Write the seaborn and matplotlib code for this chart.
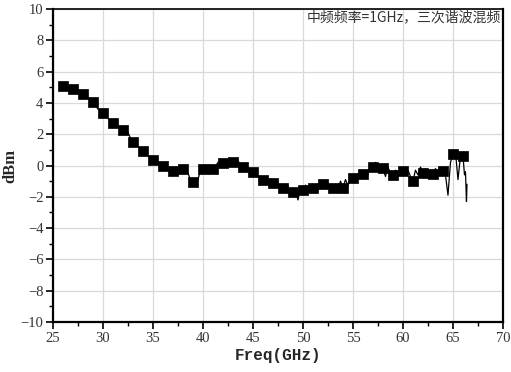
import numpy as np
import pandas as pd
import matplotlib
matplotlib.use('Agg')
import matplotlib.pyplot as plt
from matplotlib.ticker import MultipleLocator
import seaborn as sns


# marker points, one per GHz
freq_mark = list(range(26, 67))
dbm_mark = [5.06, 4.91, 4.58, 4.07, 3.35, 2.74, 2.28, 1.52, 0.95, 0.35,
            -0.03, -0.36, -0.22, -1.08, -0.21, -0.25, 0.13, 0.21, -0.11, -0.41,
            -0.95, -1.14, -1.42, -1.67, -1.56, -1.42, -1.16, -1.42, -1.42, -0.78,
            -0.57, -0.11, -0.19, -0.61, -0.36, -0.99, -0.47, -0.57, -0.36, 0.73,
            0.63]

# dense trace, 4 samples per GHz from 26 to 65.75, then the tail
dbm_fine = [
    5.06, 5.05, 5.00, 4.95,   # 26
    4.91, 5.00, 4.80, 4.70,   # 27
    4.58, 4.45, 4.35, 4.20,   # 28
    4.07, 3.85, 3.60, 3.50,   # 29
    3.35, 3.20, 3.00, 2.85,   # 30
    2.74, 2.60, 2.50, 2.40,   # 31
    2.28, 2.00, 2.10, 1.75,   # 32
    1.52, 1.40, 1.20, 1.10,   # 33
    0.95, 0.80, 0.60, 0.50,   # 34
    0.35, 0.25, 0.10, 0.05,   # 35
    -0.03, -0.10, -0.25, -0.30,  # 36
    -0.36, -0.30, -0.57, -0.35,  # 37
    -0.22, -0.30, -0.50, -0.90,  # 38
    -1.08, -1.30, -0.90, -0.30,  # 39
    -0.21, 0.05, -0.30, -0.15,   # 40
    -0.25, -0.05, 0.20, 0.10,    # 41
    0.13, 0.30, 0.05, 0.15,      # 42
    0.21, 0.15, 0.30, 0.05,      # 43
    -0.11, 0.05, -0.15, -0.30,   # 44
    -0.41, -0.55, -0.70, -0.85,  # 45
    -0.95, -0.80, -1.20, -1.00,  # 46
    -1.14, -1.30, -1.05, -1.50,  # 47
    -1.42, -1.70, -1.30, -1.90,  # 48
    -1.67, -1.50, -2.20, -1.40,  # 49
    -1.56, -1.25, -1.70, -1.35,  # 50
    -1.42, -1.70, -1.20, -1.50,  # 51
    -1.16, -1.45, -1.10, -1.60,  # 52
    -1.42, -1.20, -1.55, -1.00,  # 53
    -1.42, -0.90, -1.30, -0.70,  # 54
    -0.78, -1.00, -0.50, -0.80,  # 55
    -0.57, -0.30, -0.60, 0.10,   # 56
    -0.11, 0.20, -0.40, -0.05,   # 57
    -0.19, -0.70, -0.10, -0.50,  # 58
    -0.61, -0.30, -0.55, -0.20,  # 59
    -0.36, -0.60, -0.30, -0.70,  # 60
    -0.99, -0.30, -0.60, -0.10,  # 61
    -0.47, -0.20, -0.60, -0.30,  # 62
    -0.57, -0.20, -0.45, -0.10,  # 63
    -0.36, -0.60, -1.90, 0.20,   # 64
    0.73, 0.85, -0.90, 0.60,     # 65
]
freq_tail = [66.0, 66.15, 66.25, 66.35, 66.4]
dbm_tail = [0.63, -0.60, -0.40, -2.30, -1.20]

title_text = '中频频率=1GHz，三次谐波混频'


def main():
    freq_fine = list(np.arange(26, 66, 0.25)) + freq_tail
    trace = pd.DataFrame({'freq': freq_fine, 'dbm': dbm_fine + dbm_tail})
    marks = pd.DataFrame({'freq': freq_mark, 'dbm': dbm_mark})

    sns.set_style('whitegrid')
    plt.rcParams['font.family'] = ['Liberation Serif', 'Noto Sans CJK SC', 'DejaVu Sans']
    plt.rcParams['axes.unicode_minus'] = True

    fig = plt.figure(figsize=(5.11, 3.72), dpi=100)
    ax = fig.add_axes([0.1037, 0.1344, 0.8806, 0.8414])

    sns.lineplot(data=trace, x='freq', y='dbm', ax=ax, color='black',
                 linewidth=0.9, sort=False, estimator=None)
    sns.scatterplot(data=marks, x='freq', y='dbm', ax=ax, marker='s',
                    color='black', s=48, edgecolor='black', linewidth=0.5, zorder=3)

    ax.set_xlim(25, 70)
    ax.set_ylim(-10, 10)
    ax.xaxis.set_major_locator(MultipleLocator(5))
    ax.xaxis.set_minor_locator(MultipleLocator(2.5))
    ax.yaxis.set_major_locator(MultipleLocator(2))
    ax.yaxis.set_minor_locator(MultipleLocator(1))

    ax.grid(True, which='major', color='#d9d9d9', linewidth=0.9)
    ax.grid(False, which='minor')
    for side in ['left', 'bottom', 'top', 'right']:
        ax.spines[side].set_color('black')
        ax.spines[side].set_linewidth(1.6)
    ax.spines['top'].set_linewidth(1.2)

    ax.tick_params(which='major', direction='out', length=5, width=1.2,
                   color='black', labelsize=10.5, labelcolor='#333333',
                   bottom=True, left=True, pad=2)
    ax.tick_params(which='minor', direction='out', length=3, width=1.0,
                   color='black', bottom=True, left=True)

    ax.set_xlabel('Freq(GHz)', fontfamily='Liberation Mono', fontweight='bold',
                  fontsize=11.5, labelpad=2)
    ax.set_ylabel('dBm', fontfamily='Liberation Serif', fontweight='bold',
                  fontsize=12)
    ax.yaxis.set_label_coords(-0.078, 0.5)

    ax.text(0.995, 0.974, title_text, transform=ax.transAxes, ha='right',
            va='center', fontsize=10, color='#333333',
            family=['Noto Sans CJK SC', 'DejaVu Sans'])

    fig.savefig('out.png', dpi=100)


if __name__ == '__main__':
    main()
